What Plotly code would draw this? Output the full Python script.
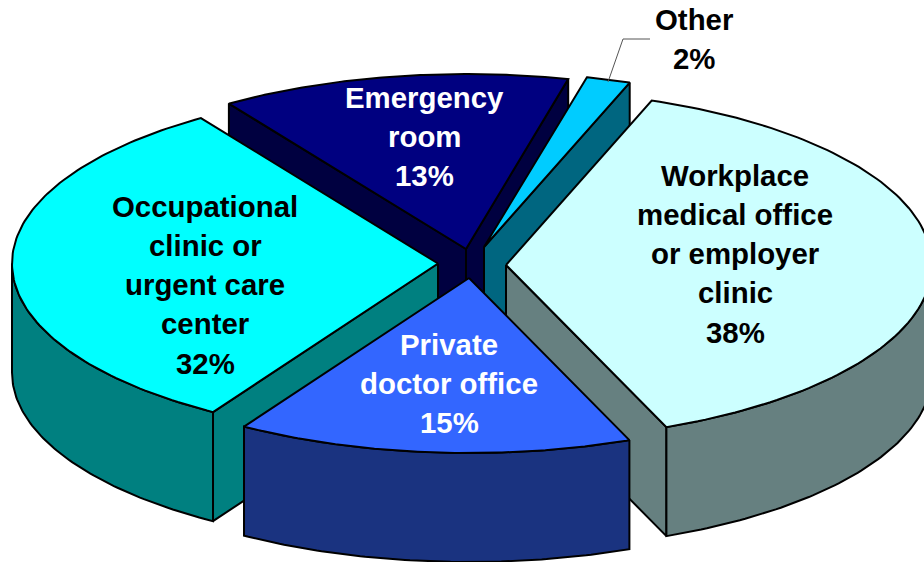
import numpy as np
import plotly.graph_objects as go

# ---- data -------------------------------------------------------------
names = ["Emergency", "Other", "Occupational", "Workplace", "Private"]
# order around the pie, clockwise from the start angle
pie_order = ["Workplace", "Private", "Occupational", "Emergency", "Other"]
shares = {"Workplace": 38.3, "Private": 15.0, "Occupational": 31.75, "Emergency": 13.25, "Other": 1.7}
top_colors = {"Workplace": "#CCFFFF", "Private": "#3366FF", "Occupational": "#00FFFF",
              "Emergency": "#000080", "Other": "#00CCFF"}
side_colors = {"Workplace": "#668080", "Private": "#1A3380", "Occupational": "#008080",
               "Emergency": "#000040", "Other": "#006680"}
label_lines = {"Workplace": ["Workplace", "medical office", "or employer", "clinic"],
               "Private": ["Private", "doctor office"],
               "Occupational": ["Occupational", "clinic or", "urgent care", "center"],
               "Emergency": ["Emergency", "room"],
               "Other": ["Other"]}
text_colors = {"Workplace": "#000000", "Private": "#FFFFFF", "Occupational": "#000000",
               "Emergency": "#FFFFFF", "Other": "#000000"}

# ---- layout of the drawing (pixel-like axis units) --------------------
apex = {"Workplace": (506, 265), "Private": (469, 278), "Occupational": (438, 263.5),
        "Emergency": (466, 249), "Other": (484, 247)}
label_pos = {"Workplace": (735, 175.3), "Private": (449, 344.3), "Occupational": (205, 206.3),
             "Emergency": (424, 97.3), "Other": (694, 19.3)}
RX, RY, DEPTH = 426, 175, 109
START = 20.0
LINE_STEP = 39.2
FONT = "Liberation Sans, Arial, sans-serif"
FONT_SIZE = 29.4


def rim(name, deg):
    a = np.radians(deg)
    cx, cy = apex[name]
    return cx + RX * np.sin(a), cy - RY * np.cos(a)


def poly(fig, xs, ys, fill, width=2):
    fig.add_trace(go.Scatter(x=list(xs), y=list(ys), mode="lines", fill="toself",
                             fillcolor=fill, line=dict(color="#000000", width=width),
                             hoverinfo="skip", showlegend=False))


# slice angle spans from the shares
spans, cur = {}, START
for n in pie_order:
    spans[n] = (cur, cur + shares[n] * 3.6)
    cur = spans[n][1]

fig = go.Figure()
for n in names:
    a0, a1 = spans[n]
    cx, cy = apex[n]
    # radial walls: visible if the slice lies above the edge on screen
    for edge, sign in ((a0, 1), (a1, -1)):
        a = np.radians(edge)
        outward_y = np.sin(a) * sign * -1 * RX  # outward normal y in squashed coordinates
        if outward_y > 0:
            ex, ey = rim(n, edge)
            poly(fig, [cx, ex, ex, cx, cx], [cy, ey, ey + DEPTH, cy + DEPTH, cy], side_colors[n])
    # outer wall: the near half of the rim only
    lo, hi = max(a0, 90), min(a1, 270)
    if hi > lo:
        t = np.linspace(lo, hi, 80)
        ex, ey = rim(n, t)
        poly(fig, np.r_[ex, ex[::-1], ex[0]], np.r_[ey, ey[::-1] + DEPTH, ey[0]], side_colors[n])
    # top face
    t = np.linspace(a0, a1, 120)
    ex, ey = rim(n, t)
    poly(fig, np.r_[cx, ex, cx], np.r_[cy, ey, cy], top_colors[n])

# leader line for the small slice
leader_x, leader_y = [608, 623, 650], [82, 39, 39]
fig.add_trace(go.Scatter(x=leader_x, y=leader_y, mode="lines", hoverinfo="skip", showlegend=False,
                         line=dict(color="#555555", width=1)))

# labels
for n in names:
    lines = label_lines[n] + [f"{round(shares[n])}%"]
    lx, ly = label_pos[n]
    for i, s in enumerate(lines):
        fig.add_annotation(x=lx, y=ly + i * LINE_STEP, text=f"<b>{s}</b>", showarrow=False,
                           xanchor="center", yanchor="middle",
                           font=dict(family=FONT, size=FONT_SIZE, color=text_colors[n]))

fig.update_xaxes(range=[0, 924], visible=False, fixedrange=True)
fig.update_yaxes(range=[562, 0], visible=False, fixedrange=True)
fig.update_layout(width=924, height=562, margin=dict(l=0, r=0, t=0, b=0),
                  paper_bgcolor="#FFFFFF", plot_bgcolor="#FFFFFF", showlegend=False)
fig.write_html("out.html", config={"displayModeBar": False},
               post_script="document.body.style.margin='0';document.body.style.overflow='hidden';")
